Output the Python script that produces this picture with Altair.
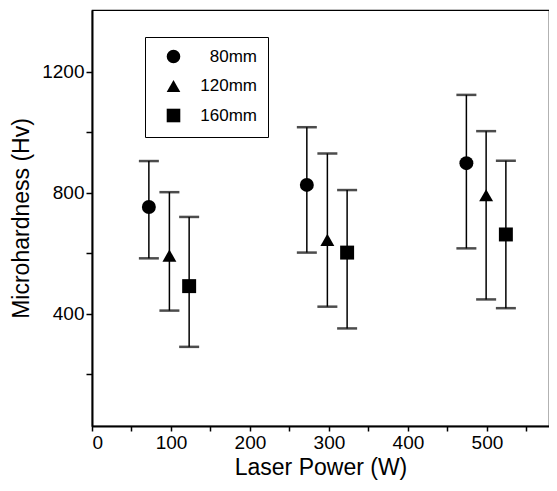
import altair as alt
import pandas as pd

power = [72, 98, 123, 272, 298, 323, 474, 499, 524]
distance = ["80mm", "120mm", "160mm"] * 3
hardness = [753, 592, 491, 826, 644, 602, 898, 792, 662]
err_low = [583, 410, 290, 602, 423, 351, 616, 447, 418]
err_high = [905, 802, 720, 1017, 930, 809, 1124, 1004, 906]

x_ticks = [0, 50, 100, 150, 200, 250, 300, 350, 400, 450, 500, 550]
y_ticks = [200, 400, 600, 800, 1000, 1200]

df = pd.DataFrame({
    "power": power, "distance": distance, "hardness": hardness,
    "low": err_low, "high": err_high,
})

FONT = "Liberation Sans"
series = ["80mm", "120mm", "160mm"]

xs = alt.Scale(domain=[0, 578.6], nice=False, zero=False)
ys = alt.Scale(domain=[28, 1405], nice=False, zero=False)

x_axis = alt.Axis(values=x_ticks, labelExpr="datum.value % 100 == 0 ? datum.value : ''",
                  title="Laser Power (W)", grid=False, tickSize=5)
y_axis = alt.Axis(values=y_ticks, labelExpr="datum.value % 400 == 0 ? datum.value : ''",
                  title="Microhardness (Hv)", grid=False, tickSize=6)

base = alt.Chart(df)

rules = base.mark_rule(color="black", strokeWidth=1.5).encode(
    x=alt.X("power:Q", scale=xs, axis=x_axis),
    y=alt.Y("low:Q", scale=ys, axis=y_axis),
    y2="high:Q",
)
caps_low = base.mark_tick(color="black", orient="horizontal", size=20, thickness=2.5).encode(
    x=alt.X("power:Q", scale=xs), y=alt.Y("low:Q", scale=ys))
caps_high = base.mark_tick(color="black", orient="horizontal", size=20, thickness=2.5).encode(
    x=alt.X("power:Q", scale=xs), y=alt.Y("high:Q", scale=ys))

points = base.mark_point(filled=True, color="black", opacity=1, size=195).encode(
    x=alt.X("power:Q", scale=xs),
    y=alt.Y("hardness:Q", scale=ys),
    shape=alt.Shape("distance:N",
                    scale=alt.Scale(domain=series,
                                    range=["circle", "triangle-up", "square"]),
                    legend=alt.Legend(title=None, orient="none", legendX=53, legendY=27,
                                      strokeColor="black", padding=11, rowPadding=9.5,
                                      symbolSize=185, symbolFillColor="black",
                                      symbolStrokeColor="black", symbolOffset=9,
                                      labelFontSize=17, labelFont=FONT, labelColor="black",
                                      labelOffset=75, labelAlign="right")),
)

chart = alt.layer(rules, caps_low, caps_high, points).properties(
    width=457, height=416,
    autosize=alt.AutoSizeParams(type="none"),
    padding={"left": 84, "top": 2, "right": 0, "bottom": 55},
    background="white",
).configure_view(
    stroke="black", strokeWidth=1.2
).configure_axis(
    domainColor="black", domainWidth=2, tickColor="black", tickWidth=1.5,
    labelColor="black", labelFont=FONT, labelFontSize=19, titleFont=FONT,
    titleFontSize=23, titleFontWeight="normal", titleColor="black",
).configure_axisY(
    labelPadding=2, titlePadding=8,
).configure_axisX(
    labelPadding=2, titlePadding=4,
)

chart.save("out.html", embed_options={"renderer": "svg", "actions": False})
